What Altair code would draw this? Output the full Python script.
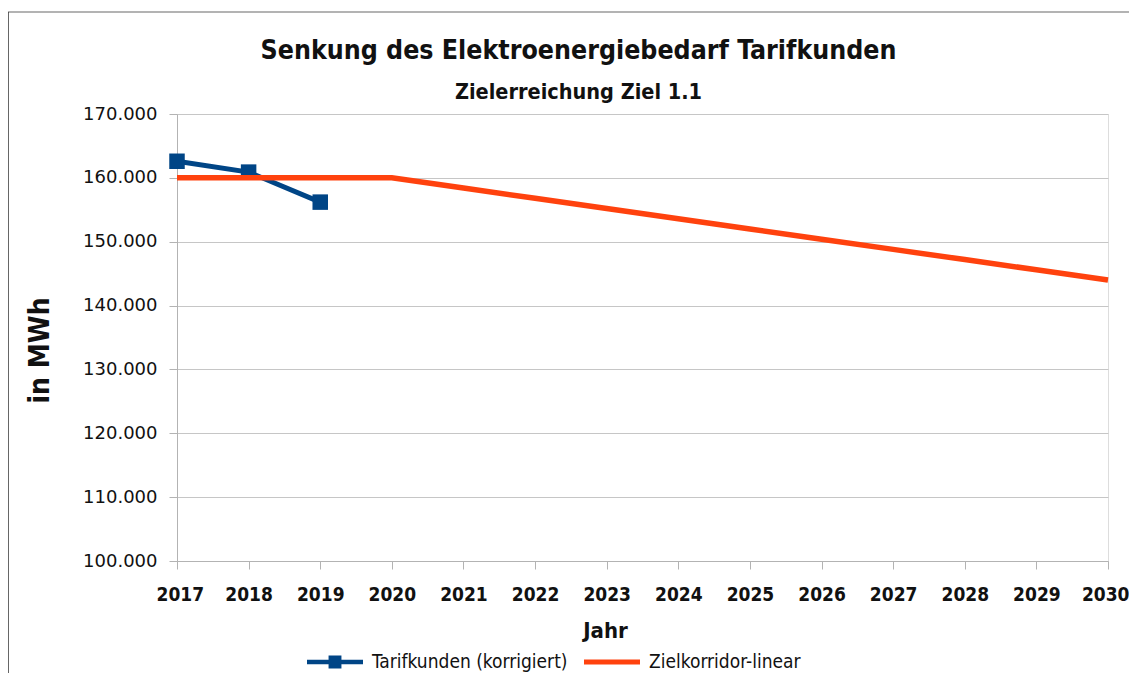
import altair as alt
import pandas as pd

# ---- data ----
years_actual = [2017, 2018, 2019]
tarif_values = [162600, 160900, 156200]

years_target = [2017, 2018, 2019, 2020, 2021, 2022, 2023, 2024, 2025, 2026, 2027, 2028, 2029, 2030]
target_values = [160000, 160000, 160000, 160000, 158400, 156800, 155200, 153600,
                 152000, 150400, 148800, 147200, 145600, 144000]

series_names = ["Tarifkunden (korrigiert)", "Zielkorridor-linear"]
series_colors = ["#004586", "#ff420e"]
x_ticks = list(range(2017, 2031))
y_ticks = [100000, 110000, 120000, 130000, 140000, 150000, 160000, 170000]

df_tarif = pd.DataFrame({"Jahr": years_actual, "Wert": tarif_values, "Reihe": series_names[0]})
df_target = pd.DataFrame({"Jahr": years_target, "Wert": target_values, "Reihe": series_names[1]})

FONT_C = "DejaVu Sans Condensed"
FONT = "DejaVu Sans"
GRID = "#c6c6c6"
AXIS = "#b3b3b3"

x_enc = alt.X("Jahr:Q",
              scale=alt.Scale(domain=[2017, 2030], nice=False, zero=False),
              axis=alt.Axis(values=x_ticks, format="d", title="Jahr", grid=False,
                            labelFlush=True, labelFlushOffset=21, labelOverlap=False,
                            labelFont=FONT_C, labelFontSize=19, labelFontWeight="bold",
                            labelColor="#111", labelPadding=16, tickSize=8, tickColor=AXIS,
                            domainColor=AXIS, titleFont=FONT_C, titleFontSize=22,
                            titleFontWeight="bold", titleColor="#111",
                            titleX=428, titleY=69, titleBaseline="middle", titleAlign="center"))
y_enc = alt.Y("Wert:Q",
              scale=alt.Scale(domain=[100000, 170000], nice=False, zero=False),
              axis=alt.Axis(values=y_ticks, title="in MWh",
                            labelExpr="replace(format(datum.value, ',d'), ',', '.')",
                            labelFont=FONT, labelFontSize=18, labelColor="#111",
                            labelPadding=12, tickSize=8, tickColor=AXIS, domainColor=AXIS,
                            grid=True, gridColor=GRID,
                            titleFont=FONT_C, titleFontSize=28, titleFontWeight="bold",
                            titleColor="#111", titleAngle=270, titleX=-137, titleY=236,
                            titleAlign="center", titleBaseline="middle"))

legend = alt.Legend(title=None, orient="none", legendX=130, legendY=520,
                    direction="horizontal", labelFont=FONT_C, labelFontSize=19,
                    labelColor="#111", labelOffset=9, columnPadding=16, labelLimit=0,
                    symbolSize=3136, symbolStrokeWidth=0)

color_scale = alt.Scale(domain=series_names, range=series_colors)
shape_scale = alt.Scale(domain=series_names,
                        range=["M-1,-0.08H1V0.08H-1Z M-0.23,-0.23H0.23V0.23H-0.23Z",
                               "M-1,-0.09H1V0.09H-1Z"])

# legend-only layer (no data rows)
legend_layer = alt.Chart(alt.Data(values=[])).mark_point(filled=True, opacity=1).encode(
    color=alt.Color("Reihe:N", scale=color_scale, legend=legend),
    shape=alt.Shape("Reihe:N", scale=shape_scale, legend=legend),
)

frame_top = alt.Chart(alt.Data(values=[{}])).mark_rule(color="#9a9a9a", strokeWidth=1.5).encode(
    x=alt.value(-169), x2=alt.value(970), y=alt.value(-102))
frame_left = alt.Chart(alt.Data(values=[{}])).mark_rule(color="#333333", strokeWidth=1.5).encode(
    x=alt.value(-169), y=alt.value(-102), y2=alt.value(600))

line_tarif = alt.Chart(df_tarif).mark_line(strokeWidth=5).encode(
    x=x_enc, y=y_enc, color=alt.Color("Reihe:N", scale=color_scale, legend=legend))
markers = alt.Chart(df_tarif).mark_square(size=240, opacity=1).encode(
    x=x_enc, y=y_enc, color=alt.Color("Reihe:N", scale=color_scale, legend=legend))
line_target = alt.Chart(df_target).mark_line(strokeWidth=5.5).encode(
    x=x_enc, y=y_enc, color=alt.Color("Reihe:N", scale=color_scale, legend=legend))

chart = alt.layer(legend_layer, frame_top, frame_left, line_tarif, markers, line_target).properties(
    width=931, height=447,
    padding={"left": 169, "top": 106, "right": 21, "bottom": 112},
    autosize=alt.AutoSizeParams(type="none"),
    title=alt.TitleParams(text="Senkung des Elektroenergiebedarf Tarifkunden",
                          subtitle="Zielerreichung Ziel 1.1",
                          font=FONT_C, fontSize=26.5, fontWeight="bold", color="#111",
                          subtitleFont=FONT_C, subtitleFontSize=21.5, subtitleFontWeight="bold",
                          subtitleColor="#111", subtitlePadding=17,
                          anchor="middle", frame="group", dx=-64, offset=-92),
).configure_view(stroke=AXIS, strokeWidth=1).configure(background="white")

chart.save("out.html", embed_options={"renderer": "svg", "actions": False})
